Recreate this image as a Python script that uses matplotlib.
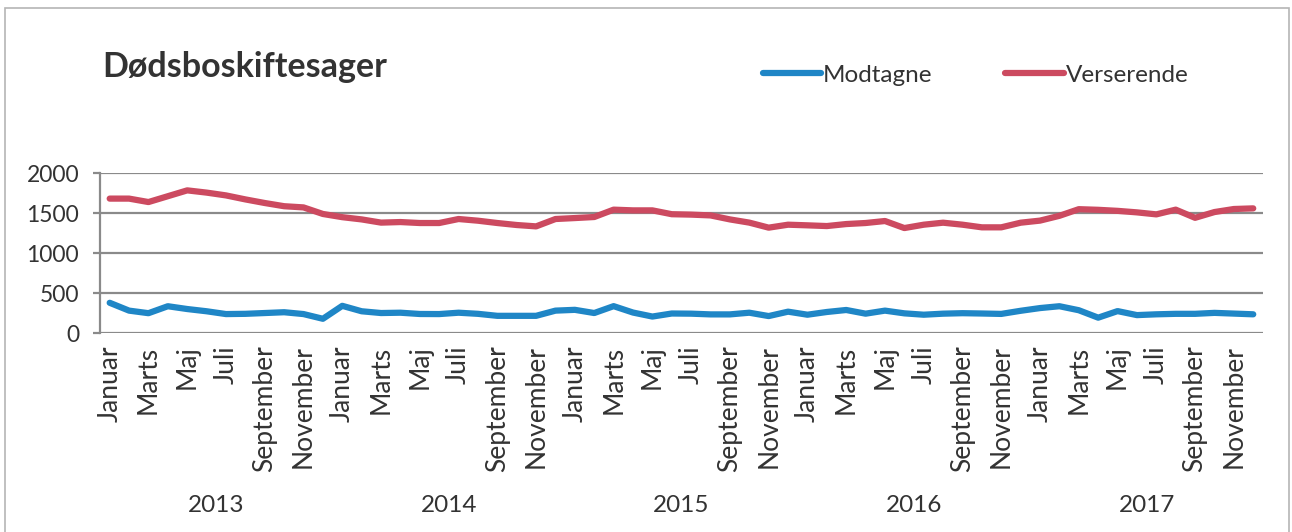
import matplotlib.pyplot as plt
from matplotlib.patches import Rectangle

plt.rcParams['font.family'] = ['Lato', 'DejaVu Sans']

# data (monthly, Jan 2013 - Dec 2017)
years = ['2013', '2014', '2015', '2016', '2017']
months = ['Januar', 'Februar', 'Marts', 'April', 'Maj', 'Juni',
          'Juli', 'August', 'September', 'Oktober', 'November', 'December']

modtagne = [378, 280, 248, 335, 300, 272, 237, 240, 250, 260, 237, 178,
            340, 272, 250, 254, 238, 237, 254, 240, 215, 215, 215, 280,
            290, 250, 336, 256, 206, 244, 242, 233, 233, 254, 212, 267,
            229, 263, 288, 242, 280, 246, 229, 242, 248, 244, 239, 278,
            312, 335, 285, 192, 274, 224, 234, 240, 240, 252, 243, 234]

verserende = [1680, 1680, 1637, 1710, 1783, 1755, 1720, 1670, 1625, 1585, 1570, 1488,
              1448, 1420, 1380, 1387, 1375, 1375, 1425, 1404, 1375, 1350, 1333, 1425,
              1437, 1450, 1542, 1533, 1533, 1485, 1480, 1470, 1420, 1380, 1317, 1354,
              1346, 1337, 1362, 1375, 1400, 1312, 1354, 1379, 1354, 1321, 1321, 1379,
              1405, 1465, 1548, 1540, 1527, 1508, 1483, 1542, 1440, 1512, 1550, 1558]

x = list(range(len(modtagne)))
labels = months * len(years)

fig = plt.figure(figsize=(12.92, 5.32), dpi=100)
ax = fig.add_axes([0.0774, 0.374, 0.9001, 0.3008])

txt = '#333333'
grid = '#8a8a8a'

ax.plot(x, modtagne, color='#1f86c6', lw=4.5, solid_capstyle='round', label='Modtagne')
ax.plot(x, verserende, color='#cc4a60', lw=4.5, solid_capstyle='round', label='Verserende')

ax.set_xlim(-0.5, 59.5)
ax.set_ylim(0, 2000)
ax.set_yticks([0, 500, 1000, 1500, 2000])
ax.set_xticks(x[::2])
ax.set_xticklabels(labels[::2], rotation=90)
ax.grid(axis='y', color=grid, lw=1.6)
ax.set_axisbelow(True)

for s in ['top', 'right', 'bottom']:
    ax.spines[s].set_visible(False)
ax.spines['left'].set_color(grid)
ax.spines['left'].set_linewidth(1.6)

ax.tick_params(axis='y', length=5, width=1.6, color=grid, labelsize=16.5, labelcolor=txt, pad=10)
ax.tick_params(axis='x', length=0, labelsize=19, labelcolor=txt, pad=9)

for i, yr in enumerate(years):
    ax.text(5.5 + 12 * i, -1.075, yr, transform=ax.get_xaxis_transform(),
            ha='center', va='center', fontsize=17.5, color=txt)

fig.text(0.079, 0.874, 'Dødsboskiftesager', fontsize=24.5, fontweight='bold',
         color=txt, ha='left', va='center')

fig.legend(loc='center', bbox_to_anchor=(0.755, 0.859), ncol=2, frameon=False,
           fontsize=17.5, handlelength=2.4, handletextpad=0.08, columnspacing=3.0,
           labelcolor=txt)

fig.patches.append(Rectangle((0.004, -0.02), 0.994, 1.005, transform=fig.transFigure,
                             fill=False, edgecolor='#b5b5b5', lw=1.2))

fig.savefig('out.png', dpi=100)
